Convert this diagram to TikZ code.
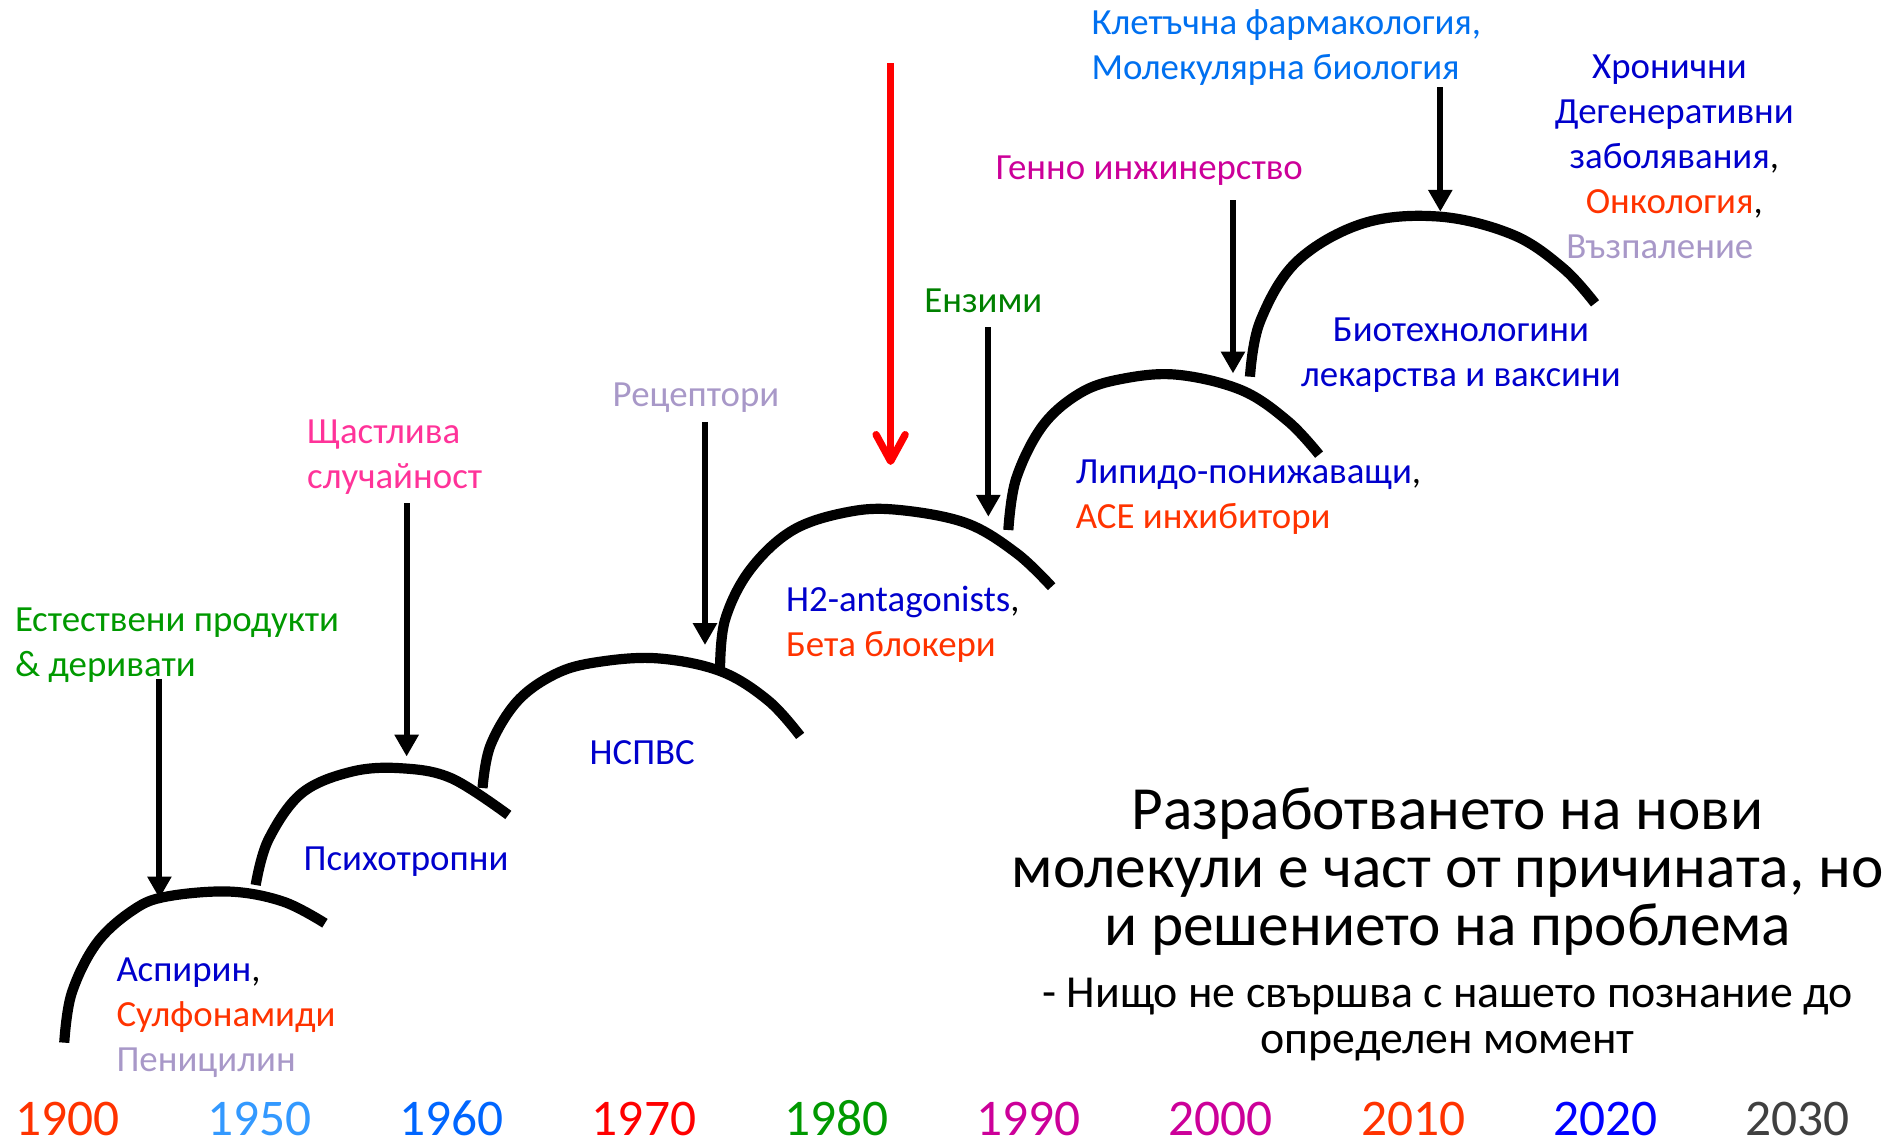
\documentclass[tikz,border=0pt]{standalone}
\usepackage{fontspec}
\setmainfont{Carlito}
\usetikzlibrary{arrows.meta}
\definecolor{cblue}{HTML}{0000CC}
\definecolor{corange}{HTML}{FF3300}
\definecolor{clav}{HTML}{A898C8}
\definecolor{cgreen}{HTML}{009900}
\definecolor{cgreenb}{HTML}{008000}
\definecolor{cpink}{HTML}{FF3399}
\definecolor{cmag}{HTML}{CC0099}
\definecolor{clblue}{HTML}{0070F0}
\definecolor{yA}{HTML}{FF3300}
\definecolor{yB}{HTML}{3399FF}
\definecolor{yC}{HTML}{0066FF}
\definecolor{yD}{HTML}{FF0000}
\definecolor{yE}{HTML}{009900}
\definecolor{yF}{HTML}{CC0099}
\definecolor{yG}{HTML}{CC0099}
\definecolor{yH}{HTML}{FF3300}
\definecolor{yI}{HTML}{0000FF}
\definecolor{yJ}{HTML}{404040}
\begin{document}
\begin{tikzpicture}[x=0.5pt,y=-0.5pt,
  lbl/.style={font=\fontsize{15.2pt}{18.55pt}\selectfont, inner sep=0pt, align=left},
  yearlbl/.style={font=\fontsize{21.2pt}{24pt}\selectfont, inner sep=0pt, anchor=base},
  bigtxt/.style={font=\fontsize{25.3pt}{24pt}\selectfont, inner sep=0pt, align=center, anchor=base},
  subtxt/.style={font=\fontsize{18.9pt}{19pt}\selectfont, inner sep=0pt, align=center, anchor=base},
  arcline/.style={line width=4.2pt, black},
  blackarrow/.style={line width=2.5pt, black, -{Triangle[length=9pt, width=9.5pt]}},
  redarrow/.style={line width=3pt, red, -{Straight Barb[round, length=11pt, width=12pt]}}]
\useasboundingbox (0,0) rectangle (1568,941);

% arcs
\draw[arcline] plot[smooth, tension=0.6] coordinates {(53,860) (59.1,819.3) (79.7,778) (110,750.5) (137.5,739.5) (189.7,735.4) (233.7,743.7) (268,761.5)};
\draw[arcline] plot[smooth, tension=0.6] coordinates {(210.9,730) (221.3,692.8) (248.8,654.3) (290,636.5) (331.3,633.7) (372.5,642) (419.3,672.2)};
\draw[arcline] plot[smooth, tension=0.6] coordinates {(398,650) (404.6,614.7) (426.8,578.3) (458.3,555.8) (492.3,546.2) (542,543) (594.5,553.7) (633.8,578) (660,607)};
\draw[arcline] plot[smooth, tension=0.6] coordinates {(593.9,552.6) (598,511.4) (618.6,470.1) (654.3,437.1) (701.1,422) (742.3,420.7) (797.3,431.6) (838.6,456.4) (867.4,483.9)};
\draw[arcline] plot[smooth, tension=0.6] coordinates {(831.7,437.2) (838.1,394.9) (859.9,351.3) (890.6,324.4) (924,312.8) (970.1,309) (1023.9,321.8) (1062.4,347.5) (1088,375)};
\draw[arcline] plot[smooth, tension=0.6] coordinates {(1031,310.7) (1039.3,265.3) (1069.5,215.8) (1124.5,184.2) (1187.7,178.7) (1248.2,193.8) (1289.4,221.3) (1315.6,250.2)};

% labels (anchor base = baseline of the last line)
\node[lbl, anchor=base west, text=cgreen] (nat) at (12,557.8) {Естествени продукти\\\& деривати};
\node[lbl, anchor=base west, text=cpink] (luck) at (253,402.8) {Щастлива\\случайност};
\node[lbl, anchor=base west, text=clav] (rec) at (505,335.7) {Рецептори};
\node[lbl, anchor=base west, text=cgreenb] (enz) at (762,257.7) {Ензими};
\node[lbl, anchor=base west, text=cmag] (gen) at (821,147.7) {Генно инжинерство};
\node[lbl, anchor=base west, text=clblue] (cell) at (900,65.8) {Клетъчна фармакология,\\Молекулярна биология};
\node[lbl, anchor=base, align=center] (chron) at (1381,213.1) {{\color{cblue}Хронични}\hspace*{4pt}\\{\color{cblue}Дегенеративни}\\{\color{cblue}заболявания},\\{\color{corange}Онкология},\hspace*{6pt}\\{\color{clav}Възпаление}\hspace*{12pt}};
\node[lbl, anchor=base, align=center, text=cblue] (bio) at (1205,318.8) {Биотехнологини\\лекарства и ваксини};
\node[lbl, anchor=base west] (lip) at (887,435.8) {{\color{cblue}Липидо-понижаващи},\\{\color{corange}ACE инхибитори}};
\node[lbl, anchor=base west] (h2) at (648,541.6) {{\color{cblue}H2-antagonists},\\{\color{corange}Бета блокери}};
\node[lbl, anchor=base west, text=cblue] (nsp) at (486,630.7) {НСПВС};
\node[lbl, anchor=base west, text=cblue] (psy) at (250,718.4) {Психотропни};
\node[lbl, anchor=base west] (asp) at (95.7,883.9) {{\color{cblue}Аспирин},\\{\color{corange}Сулфонамиди}\\{\color{clav}Пеницилин}};

% big text
\node[bigtxt] (msg) at (1194,780) {Разработването на нови\\молекули е част от причината, но\\и решението на проблема};
\node[subtxt] (note) at (1194,869) {- Нищо не свършва с нашето познание до\\определен момент};

% years
\foreach \yr/\col [count=\i from 0] in {1900/yA,1950/yB,1960/yC,1970/yD,1980/yE,1990/yF,2000/yG,2010/yH,2020/yI,2030/yJ}{
  \node[yearlbl, text=\col] (y\yr) at ({55.4+158.6*\i},936.5) {\yr};
}

% arrows
\coordinate (a1s) at (131.5,560); \coordinate (a1e) at (131.5,741);
\coordinate (a2s) at (335.4,415); \coordinate (a2e) at (335.4,624);
\coordinate (a3s) at (581.5,348); \coordinate (a3e) at (581.5,532);
\coordinate (a4s) at (734.6,52);  \coordinate (a4e) at (734.6,383.5);
\coordinate (a5s) at (815.2,270); \coordinate (a5e) at (815.2,426.2);
\coordinate (a6s) at (1017,165);  \coordinate (a6e) at (1017,308);
\coordinate (a7s) at (1188,72);   \coordinate (a7e) at (1188,174.6);
\draw[blackarrow] (a1s) -- (a1e);
\draw[blackarrow] (a2s) -- (a2e);
\draw[blackarrow] (a3s) -- (a3e);
\draw[redarrow] (a4s) -- (a4e);
\draw[blackarrow] (a5s) -- (a5e);
\draw[blackarrow] (a6s) -- (a6e);
\draw[blackarrow] (a7s) -- (a7e);
\end{tikzpicture}
\end{document}
